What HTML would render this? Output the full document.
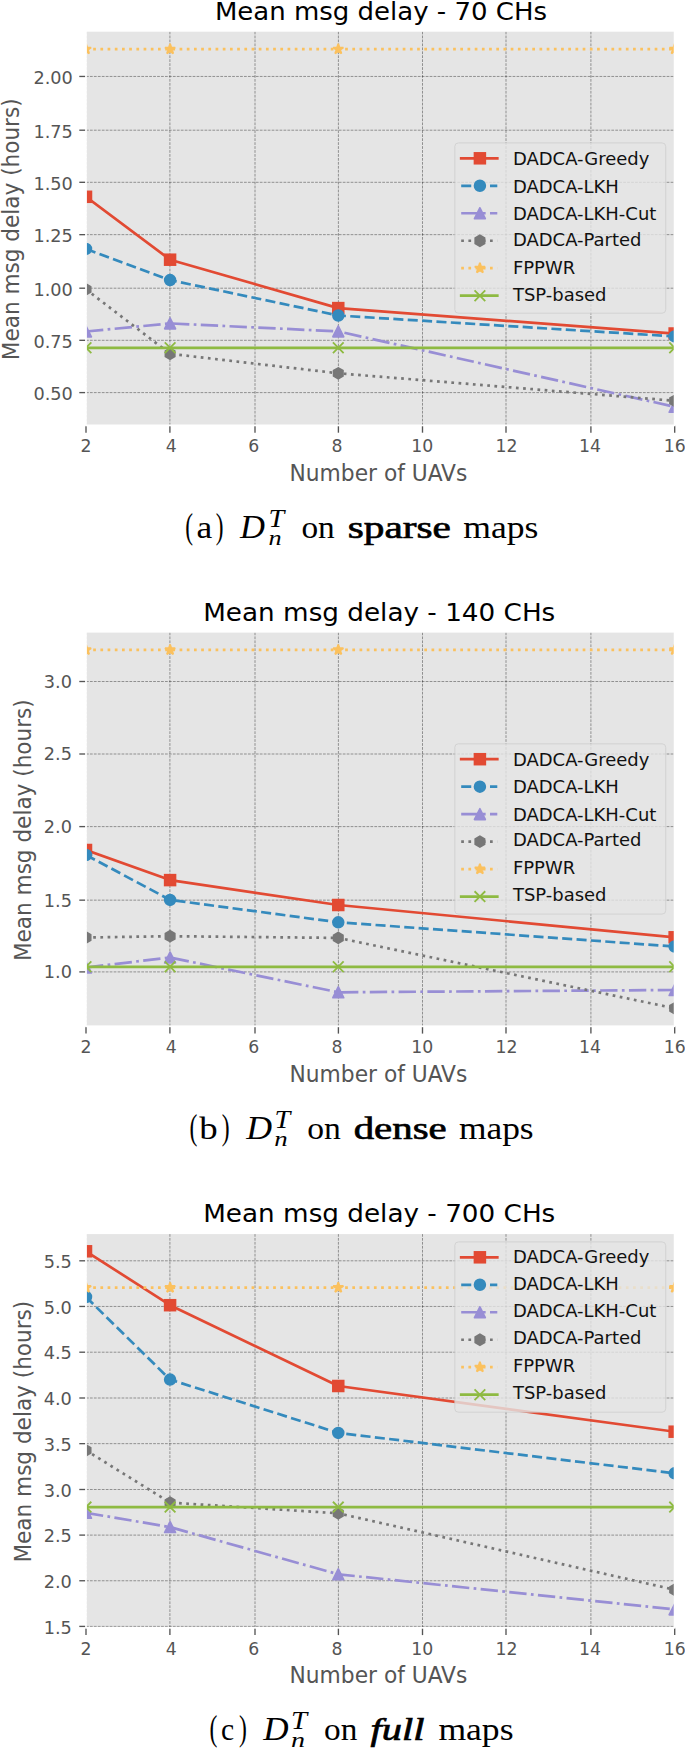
<!DOCTYPE html>
<html lang="en">
<head>
<meta charset="utf-8">
<title>Mean msg delay</title>
<style>
html,body{margin:0;padding:0;background:#fff;}
body{width:685px;height:1748px;overflow:hidden;}
svg{display:block;}
text{font-family:"DejaVu Sans","Liberation Sans",sans-serif;}
.tk text{font-size:17.7px;fill:#555555;}
.lab{font-size:24px;fill:#555555;font-stretch:condensed;}
.ttl{font-size:26px;fill:#000000;}
.lg{font-size:18px;fill:#111111;}
.cap text{font-family:"Liberation Serif","DejaVu Serif",serif;font-size:30.5px;fill:#000000;}
.cap .bf{stroke:#000;stroke-width:0.65px;}
.cap .bi{stroke:#000;stroke-width:0.65px;font-style:italic;}
.cap .pr{font-size:35px;}
.cap .mD{font-size:33px;font-style:italic;}
.cap .mT{font-size:26px;font-style:italic;}
.cap .mn{font-size:21px;font-style:italic;}
</style>
</head>
<body>
<svg width="685" height="1748" viewBox="0 0 685 1748">
<rect width="685" height="1748" fill="#ffffff"/>
<defs><clipPath id="c0"><rect x="86" y="30.8" width="588.65" height="394.6"/></clipPath></defs>
<g>
<rect x="86" y="30.8" width="588.65" height="394.6" fill="#E5E5E5"/>
<g stroke="#000000" stroke-opacity="0.47" stroke-width="0.8" stroke-dasharray="2.75,1.2" fill="none" clip-path="url(#c0)"><path d="M86 425.4L86 30.8"/><path d="M169.9 425.4L169.9 30.8"/><path d="M255 425.4L255 30.8"/><path d="M338.4 425.4L338.4 30.8"/><path d="M422.5 425.4L422.5 30.8"/><path d="M506 425.4L506 30.8"/><path d="M590.9 425.4L590.9 30.8"/><path d="M674.7 425.4L674.7 30.8"/><path d="M86 392.6L674.65 392.6"/><path d="M86 340.3L674.65 340.3"/><path d="M86 288.2L674.65 288.2"/><path d="M86 234.65L674.65 234.65"/><path d="M86 182.3L674.65 182.3"/><path d="M86 130.2L674.65 130.2"/><path d="M86 76.45L674.65 76.45"/></g>
<g stroke="#555555" stroke-width="1.35" fill="none"><path d="M86 425.4L86 432.7"/><path d="M169.9 425.4L169.9 432.7"/><path d="M255 425.4L255 432.7"/><path d="M338.4 425.4L338.4 432.7"/><path d="M422.5 425.4L422.5 432.7"/><path d="M506 425.4L506 432.7"/><path d="M590.9 425.4L590.9 432.7"/><path d="M674.7 425.4L674.7 432.7"/><path d="M86 392.6L79.3 392.6"/><path d="M86 340.3L79.3 340.3"/><path d="M86 288.2L79.3 288.2"/><path d="M86 234.65L79.3 234.65"/><path d="M86 182.3L79.3 182.3"/><path d="M86 130.2L79.3 130.2"/><path d="M86 76.45L79.3 76.45"/></g>
<g clip-path="url(#c0)"><path d="M86 196.8L170.093 259.7L338.279 308.1L674.65 333.5" fill="none" stroke="#E24A33" stroke-width="2.7" stroke-linejoin="round" stroke-linecap="square"/><rect x="80.65" y="191.45" width="10.7" height="10.7" fill="#E24A33" stroke="#E24A33" stroke-width="1.8"/><rect x="164.743" y="254.35" width="10.7" height="10.7" fill="#E24A33" stroke="#E24A33" stroke-width="1.8"/><rect x="332.929" y="302.75" width="10.7" height="10.7" fill="#E24A33" stroke="#E24A33" stroke-width="1.8"/><rect x="669.3" y="328.15" width="10.7" height="10.7" fill="#E24A33" stroke="#E24A33" stroke-width="1.8"/><path d="M86 248.9L170.093 280.1L338.279 315.5L674.65 336.4" fill="none" stroke="#348ABD" stroke-width="2.7" stroke-linejoin="round" stroke-dasharray="10.051,4.346"/><circle cx="86" cy="248.9" r="5.35" fill="#348ABD" stroke="#348ABD" stroke-width="1.8"/><circle cx="170.093" cy="280.1" r="5.35" fill="#348ABD" stroke="#348ABD" stroke-width="1.8"/><circle cx="338.279" cy="315.5" r="5.35" fill="#348ABD" stroke="#348ABD" stroke-width="1.8"/><circle cx="674.65" cy="336.4" r="5.35" fill="#348ABD" stroke="#348ABD" stroke-width="1.8"/><path d="M86 331.5L170.093 323.4L338.279 331.4L674.65 406.8" fill="none" stroke="#988ED5" stroke-width="2.7" stroke-linejoin="round" stroke-dasharray="17.386,4.346,2.716,4.346"/><polygon points="86,326.15 80.65,336.85 91.35,336.85" fill="#988ED5" stroke="#988ED5" stroke-width="1.8" stroke-linejoin="round"/><polygon points="170.093,318.05 164.743,328.75 175.443,328.75" fill="#988ED5" stroke="#988ED5" stroke-width="1.8" stroke-linejoin="round"/><polygon points="338.279,326.05 332.929,336.75 343.629,336.75" fill="#988ED5" stroke="#988ED5" stroke-width="1.8" stroke-linejoin="round"/><polygon points="674.65,401.45 669.3,412.15 680,412.15" fill="#988ED5" stroke="#988ED5" stroke-width="1.8" stroke-linejoin="round"/><path d="M86 289.4L170.093 353.8L338.279 373.3L674.65 400.8" fill="none" stroke="#777777" stroke-width="2.7" stroke-linejoin="round" stroke-dasharray="2.716,4.482"/><polygon points="86,284.05 81.367,286.725 81.367,292.075 86,294.75 90.633,292.075 90.633,286.725" fill="#777777" stroke="#777777" stroke-width="1.8" stroke-linejoin="miter"/><polygon points="170.093,348.45 165.46,351.125 165.46,356.475 170.093,359.15 174.726,356.475 174.726,351.125" fill="#777777" stroke="#777777" stroke-width="1.8" stroke-linejoin="miter"/><polygon points="338.279,367.95 333.645,370.625 333.645,375.975 338.279,378.65 342.912,375.975 342.912,370.625" fill="#777777" stroke="#777777" stroke-width="1.8" stroke-linejoin="miter"/><polygon points="674.65,395.45 670.017,398.125 670.017,403.475 674.65,406.15 679.283,403.475 679.283,398.125" fill="#777777" stroke="#777777" stroke-width="1.8" stroke-linejoin="miter"/><path d="M86 49.2L170.093 49.2L338.279 49.2L674.65 49.2" fill="none" stroke="#FBC15E" stroke-width="2.7" stroke-linejoin="round" stroke-dasharray="2.716,4.482"/><polygon points="86,43.85 84.799,47.547 80.912,47.547 84.056,49.831 82.855,53.528 86,51.244 89.145,53.528 87.944,49.831 91.088,47.547 87.201,47.547" fill="#FBC15E" stroke="#FBC15E" stroke-width="1.8" stroke-linejoin="bevel"/><polygon points="170.093,43.85 168.892,47.547 165.005,47.547 168.149,49.831 166.948,53.528 170.093,51.244 173.238,53.528 172.036,49.831 175.181,47.547 171.294,47.547" fill="#FBC15E" stroke="#FBC15E" stroke-width="1.8" stroke-linejoin="bevel"/><polygon points="338.279,43.85 337.077,47.547 333.19,47.547 336.335,49.831 335.134,53.528 338.279,51.244 341.423,53.528 340.222,49.831 343.367,47.547 339.48,47.547" fill="#FBC15E" stroke="#FBC15E" stroke-width="1.8" stroke-linejoin="bevel"/><polygon points="674.65,43.85 673.449,47.547 669.562,47.547 672.706,49.831 671.505,53.528 674.65,51.244 677.795,53.528 676.594,49.831 679.738,47.547 675.851,47.547" fill="#FBC15E" stroke="#FBC15E" stroke-width="1.8" stroke-linejoin="bevel"/><path d="M86 347.8L170.093 347.8L338.279 347.8L674.65 347.8" fill="none" stroke="#8EBA42" stroke-width="2.7" stroke-linejoin="round" stroke-linecap="square"/><path d="M80.65 342.45L91.35 353.15M80.65 353.15L91.35 342.45" fill="none" stroke="#8EBA42" stroke-width="1.8"/><path d="M164.743 342.45L175.443 353.15M164.743 353.15L175.443 342.45" fill="none" stroke="#8EBA42" stroke-width="1.8"/><path d="M332.929 342.45L343.629 353.15M332.929 353.15L343.629 342.45" fill="none" stroke="#8EBA42" stroke-width="1.8"/><path d="M669.3 342.45L680 353.15M669.3 353.15L680 342.45" fill="none" stroke="#8EBA42" stroke-width="1.8"/></g>
<rect x="86" y="30.8" width="588.65" height="394.6" fill="none" stroke="#ffffff" stroke-width="1.8"/>
<g class="tk"><text x="86" y="452.4" text-anchor="middle" style="font-size:17.3px">2</text><text x="171.2" y="452.4" text-anchor="middle" style="font-size:17.3px">4</text><text x="253.7" y="452.4" text-anchor="middle" style="font-size:17.3px">6</text><text x="337.1" y="452.4" text-anchor="middle" style="font-size:17.3px">8</text><text x="422.3" y="452.4" text-anchor="middle" style="font-size:17.3px">10</text><text x="506.4" y="452.4" text-anchor="middle" style="font-size:17.3px">12</text><text x="589.9" y="452.4" text-anchor="middle" style="font-size:17.3px">14</text><text x="674.7" y="452.4" text-anchor="middle" style="font-size:17.3px">16</text><text x="72.8" y="399.9" text-anchor="end">0.50</text><text x="72.8" y="347.6" text-anchor="end">0.75</text><text x="72.8" y="295.5" text-anchor="end">1.00</text><text x="72.8" y="241.95" text-anchor="end">1.25</text><text x="72.8" y="189.6" text-anchor="end">1.50</text><text x="72.8" y="137.5" text-anchor="end">1.75</text><text x="72.8" y="83.75" text-anchor="end">2.00</text></g>
<text class="lab" text-anchor="middle" style="font-size:24.2px" transform="translate(378.425 480.6) scale(1 0.96)">Number of UAVs</text>
<text class="lab" text-anchor="middle" transform="translate(18.7 229.25) rotate(-90) scale(1 0.97)">Mean msg delay (hours)</text>
<text class="ttl" text-anchor="end" style="font-size:26px" transform="translate(547 19.6) scale(1 0.955)">Mean msg delay - 70 CHs</text>
<g><rect x="454.8" y="142.9" width="210.9" height="170.3" rx="3.6" ry="3.6" fill="#E5E5E5" fill-opacity="0.8" stroke="#cccccc" stroke-opacity="0.8" stroke-width="0.9"/><path d="M461.2 158.3L497.3 158.3" fill="none" stroke="#E24A33" stroke-width="2.7" stroke-linejoin="round" stroke-linecap="square"/><rect x="474.55" y="152.95" width="10.7" height="10.7" fill="#E24A33" stroke="#E24A33" stroke-width="1.8"/><text class="lg" transform="translate(512.9 165.1) scale(1 0.965)">DADCA-Greedy</text><path d="M461.2 185.78L497.3 185.78" fill="none" stroke="#348ABD" stroke-width="2.7" stroke-linejoin="round" stroke-dasharray="10.051,4.346"/><circle cx="479.9" cy="185.78" r="5.35" fill="#348ABD" stroke="#348ABD" stroke-width="1.8"/><text class="lg" transform="translate(512.9 192.78) scale(1 0.965)">DADCA-LKH</text><path d="M461.2 213.26L497.3 213.26" fill="none" stroke="#988ED5" stroke-width="2.7" stroke-linejoin="round" stroke-dasharray="17.386,4.346,2.716,4.346"/><polygon points="479.9,207.91 474.55,218.61 485.25,218.61" fill="#988ED5" stroke="#988ED5" stroke-width="1.8" stroke-linejoin="round"/><text class="lg" transform="translate(512.9 219.56) scale(1 0.965)">DADCA-LKH-Cut</text><path d="M461.2 240.74L497.3 240.74" fill="none" stroke="#777777" stroke-width="2.7" stroke-linejoin="round" stroke-dasharray="2.716,4.482"/><polygon points="479.9,235.39 475.267,238.065 475.267,243.415 479.9,246.09 484.533,243.415 484.533,238.065" fill="#777777" stroke="#777777" stroke-width="1.8" stroke-linejoin="miter"/><text class="lg" transform="translate(512.9 245.64) scale(1 0.965)">DADCA-Parted</text><path d="M461.2 268.22L497.3 268.22" fill="none" stroke="#FBC15E" stroke-width="2.7" stroke-linejoin="round" stroke-dasharray="2.716,4.482"/><polygon points="479.9,262.87 478.699,266.567 474.812,266.567 477.956,268.851 476.755,272.548 479.9,270.264 483.045,272.548 481.844,268.851 484.988,266.567 481.101,266.567" fill="#FBC15E" stroke="#FBC15E" stroke-width="1.8" stroke-linejoin="bevel"/><text class="lg" transform="translate(512.9 273.82) scale(1 0.965)">FPPWR</text><path d="M461.2 295.7L497.3 295.7" fill="none" stroke="#8EBA42" stroke-width="2.7" stroke-linejoin="round" stroke-linecap="square"/><path d="M474.55 290.35L485.25 301.05M474.55 301.05L485.25 290.35" fill="none" stroke="#8EBA42" stroke-width="1.8"/><text class="lg" transform="translate(512.9 300.9) scale(1 0.965)">TSP-based</text></g>
<g class="cap"><text class="pr" x="185.3" y="537.8" textLength="7.755" lengthAdjust="spacingAndGlyphs">(</text><text class="rm" x="196.6" y="537.8" textLength="15.758" lengthAdjust="spacingAndGlyphs">a</text><text class="pr" x="215.7" y="537.8" textLength="7.755" lengthAdjust="spacingAndGlyphs">)</text><text class="mD" x="240.118" y="537.8" textLength="24.957" lengthAdjust="spacingAndGlyphs">D</text><text class="mT" x="268.5" y="527" textLength="15.698" lengthAdjust="spacingAndGlyphs">T</text><text class="mn" x="268.5" y="545.1" textLength="13.1" lengthAdjust="spacingAndGlyphs">n</text><text class="rm" x="301.4" y="537.8" textLength="33.3" lengthAdjust="spacingAndGlyphs">on</text><text class="bf" x="347.8" y="537.8" textLength="103.158" lengthAdjust="spacingAndGlyphs">sparse</text><text class="rm" x="463.3" y="537.8" textLength="75.128" lengthAdjust="spacingAndGlyphs">maps</text></g>
</g>
<defs><clipPath id="c1"><rect x="86" y="631.7" width="588.65" height="394.6"/></clipPath></defs>
<g>
<rect x="86" y="631.7" width="588.65" height="394.6" fill="#E5E5E5"/>
<g stroke="#000000" stroke-opacity="0.47" stroke-width="0.8" stroke-dasharray="2.75,1.2" fill="none" clip-path="url(#c1)"><path d="M86 1026.3L86 631.7"/><path d="M169.9 1026.3L169.9 631.7"/><path d="M255 1026.3L255 631.7"/><path d="M338.4 1026.3L338.4 631.7"/><path d="M422.5 1026.3L422.5 631.7"/><path d="M506 1026.3L506 631.7"/><path d="M590.9 1026.3L590.9 631.7"/><path d="M674.7 1026.3L674.7 631.7"/><path d="M86 971.9L674.65 971.9"/><path d="M86 900.15L674.65 900.15"/><path d="M86 826.6L674.65 826.6"/><path d="M86 754L674.65 754"/><path d="M86 681.5L674.65 681.5"/></g>
<g stroke="#555555" stroke-width="1.35" fill="none"><path d="M86 1026.3L86 1033.6"/><path d="M169.9 1026.3L169.9 1033.6"/><path d="M255 1026.3L255 1033.6"/><path d="M338.4 1026.3L338.4 1033.6"/><path d="M422.5 1026.3L422.5 1033.6"/><path d="M506 1026.3L506 1033.6"/><path d="M590.9 1026.3L590.9 1033.6"/><path d="M674.7 1026.3L674.7 1033.6"/><path d="M86 971.9L79.3 971.9"/><path d="M86 900.15L79.3 900.15"/><path d="M86 826.6L79.3 826.6"/><path d="M86 754L79.3 754"/><path d="M86 681.5L79.3 681.5"/></g>
<g clip-path="url(#c1)"><path d="M86 850L170.093 880.1L338.279 905L674.65 937.3" fill="none" stroke="#E24A33" stroke-width="2.7" stroke-linejoin="round" stroke-linecap="square"/><rect x="80.65" y="844.65" width="10.7" height="10.7" fill="#E24A33" stroke="#E24A33" stroke-width="1.8"/><rect x="164.743" y="874.75" width="10.7" height="10.7" fill="#E24A33" stroke="#E24A33" stroke-width="1.8"/><rect x="332.929" y="899.65" width="10.7" height="10.7" fill="#E24A33" stroke="#E24A33" stroke-width="1.8"/><rect x="669.3" y="931.95" width="10.7" height="10.7" fill="#E24A33" stroke="#E24A33" stroke-width="1.8"/><path d="M86 855L170.093 899.9L338.279 922.3L674.65 946.5" fill="none" stroke="#348ABD" stroke-width="2.7" stroke-linejoin="round" stroke-dasharray="10.051,4.346"/><circle cx="86" cy="855" r="5.35" fill="#348ABD" stroke="#348ABD" stroke-width="1.8"/><circle cx="170.093" cy="899.9" r="5.35" fill="#348ABD" stroke="#348ABD" stroke-width="1.8"/><circle cx="338.279" cy="922.3" r="5.35" fill="#348ABD" stroke="#348ABD" stroke-width="1.8"/><circle cx="674.65" cy="946.5" r="5.35" fill="#348ABD" stroke="#348ABD" stroke-width="1.8"/><path d="M86 967.5L170.093 957.5L338.279 992.3L674.65 990" fill="none" stroke="#988ED5" stroke-width="2.7" stroke-linejoin="round" stroke-dasharray="17.386,4.346,2.716,4.346"/><polygon points="86,962.15 80.65,972.85 91.35,972.85" fill="#988ED5" stroke="#988ED5" stroke-width="1.8" stroke-linejoin="round"/><polygon points="170.093,952.15 164.743,962.85 175.443,962.85" fill="#988ED5" stroke="#988ED5" stroke-width="1.8" stroke-linejoin="round"/><polygon points="338.279,986.95 332.929,997.65 343.629,997.65" fill="#988ED5" stroke="#988ED5" stroke-width="1.8" stroke-linejoin="round"/><polygon points="674.65,984.65 669.3,995.35 680,995.35" fill="#988ED5" stroke="#988ED5" stroke-width="1.8" stroke-linejoin="round"/><path d="M86 937.5L170.093 936.2L338.279 937.9L674.65 1008.3" fill="none" stroke="#777777" stroke-width="2.7" stroke-linejoin="round" stroke-dasharray="2.716,4.482"/><polygon points="86,932.15 81.367,934.825 81.367,940.175 86,942.85 90.633,940.175 90.633,934.825" fill="#777777" stroke="#777777" stroke-width="1.8" stroke-linejoin="miter"/><polygon points="170.093,930.85 165.46,933.525 165.46,938.875 170.093,941.55 174.726,938.875 174.726,933.525" fill="#777777" stroke="#777777" stroke-width="1.8" stroke-linejoin="miter"/><polygon points="338.279,932.55 333.645,935.225 333.645,940.575 338.279,943.25 342.912,940.575 342.912,935.225" fill="#777777" stroke="#777777" stroke-width="1.8" stroke-linejoin="miter"/><polygon points="674.65,1002.95 670.017,1005.625 670.017,1010.975 674.65,1013.65 679.283,1010.975 679.283,1005.625" fill="#777777" stroke="#777777" stroke-width="1.8" stroke-linejoin="miter"/><path d="M86 649.9L170.093 649.9L338.279 649.9L674.65 649.9" fill="none" stroke="#FBC15E" stroke-width="2.7" stroke-linejoin="round" stroke-dasharray="2.716,4.482"/><polygon points="86,644.55 84.799,648.247 80.912,648.247 84.056,650.531 82.855,654.228 86,651.944 89.145,654.228 87.944,650.531 91.088,648.247 87.201,648.247" fill="#FBC15E" stroke="#FBC15E" stroke-width="1.8" stroke-linejoin="bevel"/><polygon points="170.093,644.55 168.892,648.247 165.005,648.247 168.149,650.531 166.948,654.228 170.093,651.944 173.238,654.228 172.036,650.531 175.181,648.247 171.294,648.247" fill="#FBC15E" stroke="#FBC15E" stroke-width="1.8" stroke-linejoin="bevel"/><polygon points="338.279,644.55 337.077,648.247 333.19,648.247 336.335,650.531 335.134,654.228 338.279,651.944 341.423,654.228 340.222,650.531 343.367,648.247 339.48,648.247" fill="#FBC15E" stroke="#FBC15E" stroke-width="1.8" stroke-linejoin="bevel"/><polygon points="674.65,644.55 673.449,648.247 669.562,648.247 672.706,650.531 671.505,654.228 674.65,651.944 677.795,654.228 676.594,650.531 679.738,648.247 675.851,648.247" fill="#FBC15E" stroke="#FBC15E" stroke-width="1.8" stroke-linejoin="bevel"/><path d="M86 966.8L170.093 966.8L338.279 966.8L674.65 966.8" fill="none" stroke="#8EBA42" stroke-width="2.7" stroke-linejoin="round" stroke-linecap="square"/><path d="M80.65 961.45L91.35 972.15M80.65 972.15L91.35 961.45" fill="none" stroke="#8EBA42" stroke-width="1.8"/><path d="M164.743 961.45L175.443 972.15M164.743 972.15L175.443 961.45" fill="none" stroke="#8EBA42" stroke-width="1.8"/><path d="M332.929 961.45L343.629 972.15M332.929 972.15L343.629 961.45" fill="none" stroke="#8EBA42" stroke-width="1.8"/><path d="M669.3 961.45L680 972.15M669.3 972.15L680 961.45" fill="none" stroke="#8EBA42" stroke-width="1.8"/></g>
<rect x="86" y="631.7" width="588.65" height="394.6" fill="none" stroke="#ffffff" stroke-width="1.8"/>
<g class="tk"><text x="86" y="1053.3" text-anchor="middle" style="font-size:17.3px">2</text><text x="171.2" y="1053.3" text-anchor="middle" style="font-size:17.3px">4</text><text x="253.7" y="1053.3" text-anchor="middle" style="font-size:17.3px">6</text><text x="337.1" y="1053.3" text-anchor="middle" style="font-size:17.3px">8</text><text x="422.3" y="1053.3" text-anchor="middle" style="font-size:17.3px">10</text><text x="506.4" y="1053.3" text-anchor="middle" style="font-size:17.3px">12</text><text x="589.9" y="1053.3" text-anchor="middle" style="font-size:17.3px">14</text><text x="674.7" y="1053.3" text-anchor="middle" style="font-size:17.3px">16</text><text x="72" y="978.3" text-anchor="end">1.0</text><text x="72" y="906.55" text-anchor="end">1.5</text><text x="72" y="833" text-anchor="end">2.0</text><text x="72" y="760.4" text-anchor="end">2.5</text><text x="72" y="687.9" text-anchor="end">3.0</text></g>
<text class="lab" text-anchor="middle" style="font-size:24.2px" transform="translate(378.425 1081.5) scale(1 0.96)">Number of UAVs</text>
<text class="lab" text-anchor="middle" transform="translate(30.5 830.15) rotate(-90) scale(1 0.97)">Mean msg delay (hours)</text>
<text class="ttl" text-anchor="end" style="font-size:26.25px" transform="translate(555.3 620.6) scale(1 0.955)">Mean msg delay - 140 CHs</text>
<g><rect x="454.8" y="743.8" width="210.9" height="170.3" rx="3.6" ry="3.6" fill="#E5E5E5" fill-opacity="0.8" stroke="#cccccc" stroke-opacity="0.8" stroke-width="0.9"/><path d="M461.2 759.2L497.3 759.2" fill="none" stroke="#E24A33" stroke-width="2.7" stroke-linejoin="round" stroke-linecap="square"/><rect x="474.55" y="753.85" width="10.7" height="10.7" fill="#E24A33" stroke="#E24A33" stroke-width="1.8"/><text class="lg" transform="translate(512.9 765.6) scale(1 0.965)">DADCA-Greedy</text><path d="M461.2 786.68L497.3 786.68" fill="none" stroke="#348ABD" stroke-width="2.7" stroke-linejoin="round" stroke-dasharray="10.051,4.346"/><circle cx="479.9" cy="786.68" r="5.35" fill="#348ABD" stroke="#348ABD" stroke-width="1.8"/><text class="lg" transform="translate(512.9 792.88) scale(1 0.965)">DADCA-LKH</text><path d="M461.2 814.16L497.3 814.16" fill="none" stroke="#988ED5" stroke-width="2.7" stroke-linejoin="round" stroke-dasharray="17.386,4.346,2.716,4.346"/><polygon points="479.9,808.81 474.55,819.51 485.25,819.51" fill="#988ED5" stroke="#988ED5" stroke-width="1.8" stroke-linejoin="round"/><text class="lg" transform="translate(512.9 821.26) scale(1 0.965)">DADCA-LKH-Cut</text><path d="M461.2 841.64L497.3 841.64" fill="none" stroke="#777777" stroke-width="2.7" stroke-linejoin="round" stroke-dasharray="2.716,4.482"/><polygon points="479.9,836.29 475.267,838.965 475.267,844.315 479.9,846.99 484.533,844.315 484.533,838.965" fill="#777777" stroke="#777777" stroke-width="1.8" stroke-linejoin="miter"/><text class="lg" transform="translate(512.9 846.34) scale(1 0.965)">DADCA-Parted</text><path d="M461.2 869.12L497.3 869.12" fill="none" stroke="#FBC15E" stroke-width="2.7" stroke-linejoin="round" stroke-dasharray="2.716,4.482"/><polygon points="479.9,863.77 478.699,867.467 474.812,867.467 477.956,869.751 476.755,873.448 479.9,871.164 483.045,873.448 481.844,869.751 484.988,867.467 481.101,867.467" fill="#FBC15E" stroke="#FBC15E" stroke-width="1.8" stroke-linejoin="bevel"/><text class="lg" transform="translate(512.9 873.72) scale(1 0.965)">FPPWR</text><path d="M461.2 896.6L497.3 896.6" fill="none" stroke="#8EBA42" stroke-width="2.7" stroke-linejoin="round" stroke-linecap="square"/><path d="M474.55 891.25L485.25 901.95M474.55 901.95L485.25 891.25" fill="none" stroke="#8EBA42" stroke-width="1.8"/><text class="lg" transform="translate(512.9 901.4) scale(1 0.965)">TSP-based</text></g>
<g class="cap"><text class="pr" x="189.6" y="1138.6" textLength="7.854" lengthAdjust="spacingAndGlyphs">(</text><text class="rm" x="199.3" y="1138.6" textLength="18.4" lengthAdjust="spacingAndGlyphs">b</text><text class="pr" x="221.8" y="1138.6" textLength="7.854" lengthAdjust="spacingAndGlyphs">)</text><text class="mD" x="246.237" y="1138.6" textLength="25.842" lengthAdjust="spacingAndGlyphs">D</text><text class="mT" x="274.6" y="1127.8" textLength="15.698" lengthAdjust="spacingAndGlyphs">T</text><text class="mn" x="274.3" y="1145.9" textLength="13.4" lengthAdjust="spacingAndGlyphs">n</text><text class="rm" x="307.3" y="1138.6" textLength="33.6" lengthAdjust="spacingAndGlyphs">on</text><text class="bf" x="353.7" y="1138.6" textLength="92.973" lengthAdjust="spacingAndGlyphs">dense</text><text class="rm" x="458.9" y="1138.6" textLength="74.728" lengthAdjust="spacingAndGlyphs">maps</text></g>
</g>
<defs><clipPath id="c2"><rect x="86" y="1233.2" width="588.65" height="394.6"/></clipPath></defs>
<g>
<rect x="86" y="1233.2" width="588.65" height="394.6" fill="#E5E5E5"/>
<g stroke="#000000" stroke-opacity="0.47" stroke-width="0.8" stroke-dasharray="2.75,1.2" fill="none" clip-path="url(#c2)"><path d="M86 1627.8L86 1233.2"/><path d="M169.9 1627.8L169.9 1233.2"/><path d="M255 1627.8L255 1233.2"/><path d="M338.4 1627.8L338.4 1233.2"/><path d="M422.5 1627.8L422.5 1233.2"/><path d="M506 1627.8L506 1233.2"/><path d="M590.9 1627.8L590.9 1233.2"/><path d="M674.7 1627.8L674.7 1233.2"/><path d="M86 1626.4L674.65 1626.4"/><path d="M86 1580.75L674.65 1580.75"/><path d="M86 1535.1L674.65 1535.1"/><path d="M86 1489.5L674.65 1489.5"/><path d="M86 1443.65L674.65 1443.65"/><path d="M86 1398L674.65 1398"/><path d="M86 1352.2L674.65 1352.2"/><path d="M86 1306.45L674.65 1306.45"/><path d="M86 1260.8L674.65 1260.8"/></g>
<g stroke="#555555" stroke-width="1.35" fill="none"><path d="M86 1627.8L86 1635.1"/><path d="M169.9 1627.8L169.9 1635.1"/><path d="M255 1627.8L255 1635.1"/><path d="M338.4 1627.8L338.4 1635.1"/><path d="M422.5 1627.8L422.5 1635.1"/><path d="M506 1627.8L506 1635.1"/><path d="M590.9 1627.8L590.9 1635.1"/><path d="M674.7 1627.8L674.7 1635.1"/><path d="M86 1626.4L79.3 1626.4"/><path d="M86 1580.75L79.3 1580.75"/><path d="M86 1535.1L79.3 1535.1"/><path d="M86 1489.5L79.3 1489.5"/><path d="M86 1443.65L79.3 1443.65"/><path d="M86 1398L79.3 1398"/><path d="M86 1352.2L79.3 1352.2"/><path d="M86 1306.45L79.3 1306.45"/><path d="M86 1260.8L79.3 1260.8"/></g>
<g clip-path="url(#c2)"><path d="M86 1251.3L170.093 1305.2L338.279 1386L674.65 1431.7" fill="none" stroke="#E24A33" stroke-width="2.7" stroke-linejoin="round" stroke-linecap="square"/><rect x="80.65" y="1245.95" width="10.7" height="10.7" fill="#E24A33" stroke="#E24A33" stroke-width="1.8"/><rect x="164.743" y="1299.85" width="10.7" height="10.7" fill="#E24A33" stroke="#E24A33" stroke-width="1.8"/><rect x="332.929" y="1380.65" width="10.7" height="10.7" fill="#E24A33" stroke="#E24A33" stroke-width="1.8"/><rect x="669.3" y="1426.35" width="10.7" height="10.7" fill="#E24A33" stroke="#E24A33" stroke-width="1.8"/><path d="M86 1297L170.093 1379.6L338.279 1432.9L674.65 1473.3" fill="none" stroke="#348ABD" stroke-width="2.7" stroke-linejoin="round" stroke-dasharray="10.051,4.346"/><circle cx="86" cy="1297" r="5.35" fill="#348ABD" stroke="#348ABD" stroke-width="1.8"/><circle cx="170.093" cy="1379.6" r="5.35" fill="#348ABD" stroke="#348ABD" stroke-width="1.8"/><circle cx="338.279" cy="1432.9" r="5.35" fill="#348ABD" stroke="#348ABD" stroke-width="1.8"/><circle cx="674.65" cy="1473.3" r="5.35" fill="#348ABD" stroke="#348ABD" stroke-width="1.8"/><path d="M86 1512.8L170.093 1527.1L338.279 1574.3L674.65 1609.4" fill="none" stroke="#988ED5" stroke-width="2.7" stroke-linejoin="round" stroke-dasharray="17.386,4.346,2.716,4.346"/><polygon points="86,1507.45 80.65,1518.15 91.35,1518.15" fill="#988ED5" stroke="#988ED5" stroke-width="1.8" stroke-linejoin="round"/><polygon points="170.093,1521.75 164.743,1532.45 175.443,1532.45" fill="#988ED5" stroke="#988ED5" stroke-width="1.8" stroke-linejoin="round"/><polygon points="338.279,1568.95 332.929,1579.65 343.629,1579.65" fill="#988ED5" stroke="#988ED5" stroke-width="1.8" stroke-linejoin="round"/><polygon points="674.65,1604.05 669.3,1614.75 680,1614.75" fill="#988ED5" stroke="#988ED5" stroke-width="1.8" stroke-linejoin="round"/><path d="M86 1450.35L170.093 1502.6L338.279 1513.3L674.65 1589.75" fill="none" stroke="#777777" stroke-width="2.7" stroke-linejoin="round" stroke-dasharray="2.716,4.482"/><polygon points="86,1445 81.367,1447.675 81.367,1453.025 86,1455.7 90.633,1453.025 90.633,1447.675" fill="#777777" stroke="#777777" stroke-width="1.8" stroke-linejoin="miter"/><polygon points="170.093,1497.25 165.46,1499.925 165.46,1505.275 170.093,1507.95 174.726,1505.275 174.726,1499.925" fill="#777777" stroke="#777777" stroke-width="1.8" stroke-linejoin="miter"/><polygon points="338.279,1507.95 333.645,1510.625 333.645,1515.975 338.279,1518.65 342.912,1515.975 342.912,1510.625" fill="#777777" stroke="#777777" stroke-width="1.8" stroke-linejoin="miter"/><polygon points="674.65,1584.4 670.017,1587.075 670.017,1592.425 674.65,1595.1 679.283,1592.425 679.283,1587.075" fill="#777777" stroke="#777777" stroke-width="1.8" stroke-linejoin="miter"/><path d="M86 1287.65L170.093 1287.65L338.279 1287.65L674.65 1287.65" fill="none" stroke="#FBC15E" stroke-width="2.7" stroke-linejoin="round" stroke-dasharray="2.716,4.482"/><polygon points="86,1282.3 84.799,1285.997 80.912,1285.997 84.056,1288.281 82.855,1291.978 86,1289.694 89.145,1291.978 87.944,1288.281 91.088,1285.997 87.201,1285.997" fill="#FBC15E" stroke="#FBC15E" stroke-width="1.8" stroke-linejoin="bevel"/><polygon points="170.093,1282.3 168.892,1285.997 165.005,1285.997 168.149,1288.281 166.948,1291.978 170.093,1289.694 173.238,1291.978 172.036,1288.281 175.181,1285.997 171.294,1285.997" fill="#FBC15E" stroke="#FBC15E" stroke-width="1.8" stroke-linejoin="bevel"/><polygon points="338.279,1282.3 337.077,1285.997 333.19,1285.997 336.335,1288.281 335.134,1291.978 338.279,1289.694 341.423,1291.978 340.222,1288.281 343.367,1285.997 339.48,1285.997" fill="#FBC15E" stroke="#FBC15E" stroke-width="1.8" stroke-linejoin="bevel"/><polygon points="674.65,1282.3 673.449,1285.997 669.562,1285.997 672.706,1288.281 671.505,1291.978 674.65,1289.694 677.795,1291.978 676.594,1288.281 679.738,1285.997 675.851,1285.997" fill="#FBC15E" stroke="#FBC15E" stroke-width="1.8" stroke-linejoin="bevel"/><path d="M86 1507.1L170.093 1507.1L338.279 1507.1L674.65 1507.1" fill="none" stroke="#8EBA42" stroke-width="2.7" stroke-linejoin="round" stroke-linecap="square"/><path d="M80.65 1501.75L91.35 1512.45M80.65 1512.45L91.35 1501.75" fill="none" stroke="#8EBA42" stroke-width="1.8"/><path d="M164.743 1501.75L175.443 1512.45M164.743 1512.45L175.443 1501.75" fill="none" stroke="#8EBA42" stroke-width="1.8"/><path d="M332.929 1501.75L343.629 1512.45M332.929 1512.45L343.629 1501.75" fill="none" stroke="#8EBA42" stroke-width="1.8"/><path d="M669.3 1501.75L680 1512.45M669.3 1512.45L680 1501.75" fill="none" stroke="#8EBA42" stroke-width="1.8"/></g>
<rect x="86" y="1233.2" width="588.65" height="394.6" fill="none" stroke="#ffffff" stroke-width="1.8"/>
<g class="tk"><text x="86" y="1654.8" text-anchor="middle" style="font-size:17.3px">2</text><text x="171.2" y="1654.8" text-anchor="middle" style="font-size:17.3px">4</text><text x="253.7" y="1654.8" text-anchor="middle" style="font-size:17.3px">6</text><text x="337.1" y="1654.8" text-anchor="middle" style="font-size:17.3px">8</text><text x="422.3" y="1654.8" text-anchor="middle" style="font-size:17.3px">10</text><text x="506.4" y="1654.8" text-anchor="middle" style="font-size:17.3px">12</text><text x="589.9" y="1654.8" text-anchor="middle" style="font-size:17.3px">14</text><text x="674.7" y="1654.8" text-anchor="middle" style="font-size:17.3px">16</text><text x="71.8" y="1633.5" text-anchor="end">1.5</text><text x="71.8" y="1587.85" text-anchor="end">2.0</text><text x="71.8" y="1542.2" text-anchor="end">2.5</text><text x="71.8" y="1496.6" text-anchor="end">3.0</text><text x="71.8" y="1450.75" text-anchor="end">3.5</text><text x="71.8" y="1405.1" text-anchor="end">4.0</text><text x="71.8" y="1359.3" text-anchor="end">4.5</text><text x="71.8" y="1313.55" text-anchor="end">5.0</text><text x="71.8" y="1267.9" text-anchor="end">5.5</text></g>
<text class="lab" text-anchor="middle" style="font-size:24.2px" transform="translate(378.425 1683) scale(1 0.96)">Number of UAVs</text>
<text class="lab" text-anchor="middle" transform="translate(30.5 1431.65) rotate(-90) scale(1 0.97)">Mean msg delay (hours)</text>
<text class="ttl" text-anchor="end" style="font-size:26.25px" transform="translate(555.3 1222.1) scale(1 0.955)">Mean msg delay - 700 CHs</text>
<g><rect x="454.8" y="1241.9" width="210.9" height="170.3" rx="3.6" ry="3.6" fill="#E5E5E5" fill-opacity="0.8" stroke="#cccccc" stroke-opacity="0.8" stroke-width="0.9"/><path d="M461.2 1257.3L497.3 1257.3" fill="none" stroke="#E24A33" stroke-width="2.7" stroke-linejoin="round" stroke-linecap="square"/><rect x="474.55" y="1251.95" width="10.7" height="10.7" fill="#E24A33" stroke="#E24A33" stroke-width="1.8"/><text class="lg" transform="translate(512.9 1262.7) scale(1 0.965)">DADCA-Greedy</text><path d="M461.2 1284.78L497.3 1284.78" fill="none" stroke="#348ABD" stroke-width="2.7" stroke-linejoin="round" stroke-dasharray="10.051,4.346"/><circle cx="479.9" cy="1284.78" r="5.35" fill="#348ABD" stroke="#348ABD" stroke-width="1.8"/><text class="lg" transform="translate(512.9 1289.78) scale(1 0.965)">DADCA-LKH</text><path d="M461.2 1312.26L497.3 1312.26" fill="none" stroke="#988ED5" stroke-width="2.7" stroke-linejoin="round" stroke-dasharray="17.386,4.346,2.716,4.346"/><polygon points="479.9,1306.91 474.55,1317.61 485.25,1317.61" fill="#988ED5" stroke="#988ED5" stroke-width="1.8" stroke-linejoin="round"/><text class="lg" transform="translate(512.9 1316.86) scale(1 0.965)">DADCA-LKH-Cut</text><path d="M461.2 1339.74L497.3 1339.74" fill="none" stroke="#777777" stroke-width="2.7" stroke-linejoin="round" stroke-dasharray="2.716,4.482"/><polygon points="479.9,1334.39 475.267,1337.065 475.267,1342.415 479.9,1345.09 484.533,1342.415 484.533,1337.065" fill="#777777" stroke="#777777" stroke-width="1.8" stroke-linejoin="miter"/><text class="lg" transform="translate(512.9 1344.44) scale(1 0.965)">DADCA-Parted</text><path d="M461.2 1367.22L497.3 1367.22" fill="none" stroke="#FBC15E" stroke-width="2.7" stroke-linejoin="round" stroke-dasharray="2.716,4.482"/><polygon points="479.9,1361.87 478.699,1365.567 474.812,1365.567 477.956,1367.851 476.755,1371.548 479.9,1369.264 483.045,1371.548 481.844,1367.851 484.988,1365.567 481.101,1365.567" fill="#FBC15E" stroke="#FBC15E" stroke-width="1.8" stroke-linejoin="bevel"/><text class="lg" transform="translate(512.9 1372.42) scale(1 0.965)">FPPWR</text><path d="M461.2 1394.7L497.3 1394.7" fill="none" stroke="#8EBA42" stroke-width="2.7" stroke-linejoin="round" stroke-linecap="square"/><path d="M474.55 1389.35L485.25 1400.05M474.55 1400.05L485.25 1389.35" fill="none" stroke="#8EBA42" stroke-width="1.8"/><text class="lg" transform="translate(512.9 1399.4) scale(1 0.965)">TSP-based</text></g>
<g class="cap"><text class="pr" x="209.6" y="1739.8" textLength="7.854" lengthAdjust="spacingAndGlyphs">(</text><text class="rm" x="221" y="1739.8" textLength="13.165" lengthAdjust="spacingAndGlyphs">c</text><text class="pr" x="238.9" y="1739.8" textLength="7.854" lengthAdjust="spacingAndGlyphs">)</text><text class="mD" x="263.227" y="1739.8" textLength="25.35" lengthAdjust="spacingAndGlyphs">D</text><text class="mT" x="291.1" y="1729" textLength="16.057" lengthAdjust="spacingAndGlyphs">T</text><text class="mn" x="291.1" y="1747.1" textLength="14" lengthAdjust="spacingAndGlyphs">n</text><text class="rm" x="324" y="1739.8" textLength="33.3" lengthAdjust="spacingAndGlyphs">on</text><text class="bi" x="370.6" y="1739.8" textLength="53.937" lengthAdjust="spacingAndGlyphs">full</text><text class="rm" x="438.4" y="1739.8" textLength="75.128" lengthAdjust="spacingAndGlyphs">maps</text></g>
</g>
</svg>
</body>
</html>
